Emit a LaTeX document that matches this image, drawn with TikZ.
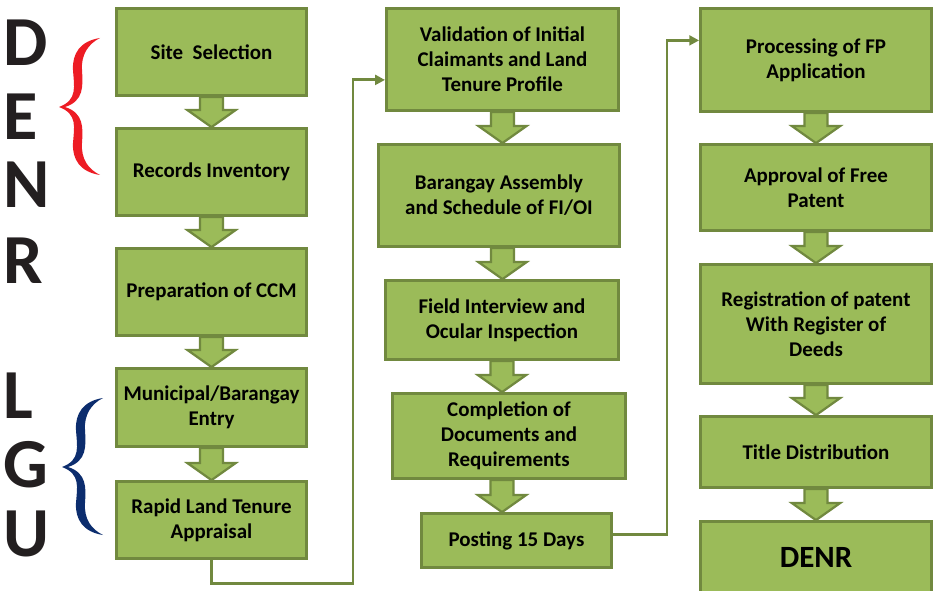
\documentclass[tikz,border=0pt]{standalone}
\usepackage{fontspec}
\setmainfont{Carlito}
\usepackage{tikz}
\usetikzlibrary{arrows.meta}
\usetikzlibrary{calc}
\definecolor{boxfill}{RGB}{155,187,89}
\definecolor{boxline}{RGB}{113,137,63}
\definecolor{bracered}{RGB}{237,28,36}
\definecolor{braceblue}{RGB}{12,45,110}
\definecolor{letterink}{RGB}{35,31,32}
\tikzset{
  % arrow tip for the thin connectors
  >={Triangle[length=7pt,width=7pt]},
  % Common styles for the flow chart
  stepbox/.style={draw=boxline, fill=boxfill, line width=2.1pt, align=center,
    font=\bfseries\fontsize{14.9}{17.8}\selectfont},
  link/.style={draw=boxline, line width=2pt, ->},
  fat/.style={draw=boxline, fill=boxfill, line width=1.6pt,
    to path={let \p1=(\tikztostart), \p2=(\tikztotarget) in
      (\x1-8.2pt,\y1) -- (\x1-8.2pt,\y2+12.1pt) -- (\x1-17.1pt,\y2+12.1pt) -- (\x1,\y2)
      -- (\x1+17.1pt,\y2+12.1pt) -- (\x1+8.2pt,\y2+12.1pt) -- (\x1+8.2pt,\y1) -- cycle}},
  bigletter/.style={font=\bfseries\fontsize{50}{50}\selectfont, text=letterink,
    anchor=west, inner sep=0pt},
  curly/.pic={
    \fill (0,0) .. controls (-20,3) and (-28,16) .. (-27,32)
      .. controls (-26,48) and (-22,62) .. (-41,69)
      .. controls (-22,76) and (-26,90) .. (-27,105)
      .. controls (-28,121) and (-20,134) .. (0,137)
      .. controls (-12,131) and (-19,121) .. (-18,105)
      .. controls (-17,90) and (-16,75) .. (-35,69)
      .. controls (-16,63) and (-17,48) .. (-18,32)
      .. controls (-19,17) and (-12,6) .. (0,0) -- cycle;
  }
}

\begin{document}
\begin{tikzpicture}[x=0.025cm,y=-0.025cm]
        \useasboundingbox (0,0) rectangle (936,591);

        % Side letters and braces
        \foreach \ch/\py in {D/42.5, E/116.5, N/185, R/261, L/396, G/465, U/534}
          \node[bigletter] (letter\ch) at (3,\py) {\ch};
        \pic[fill=bracered] at (100,38) {curly};
        \pic[fill=braceblue] at (103,398) {curly};

        % First column
        \node[stepbox, minimum width=4.75cm, minimum height=2.17cm] (site) at (211.5,52) {Site\ \ Selection};
        \node[stepbox, minimum width=4.75cm, minimum height=2.17cm] (records) at (211.5,172) {Records Inventory};
        \node[stepbox, minimum width=4.75cm, minimum height=2.17cm] (ccm) at (211.5,292) {Preparation of CCM};
        \node[stepbox, minimum width=4.75cm, minimum height=1.95cm] (entry) at (211.5,407.5) {Municipal/Barangay\\Entry};
        \node[stepbox, minimum width=4.75cm, minimum height=1.92cm] (rapid) at (211.5,520) {Rapid Land Tenure\\Appraisal};

        % Second column
        \node[stepbox, minimum width=5.8cm, minimum height=2.55cm] (valid) at (502.5,59.5) {Validation of Initial\\Claimants and Land\\Tenure Profile};
        \node[stepbox, minimum width=6.02cm, minimum height=2.55cm] (assembly) at (499,195.5) {Barangay Assembly\\and Schedule of FI/OI};
        \node[stepbox, minimum width=5.82cm, minimum height=1.97cm] (field) at (502,320) {Field Interview and\\Ocular Inspection};
        \node[stepbox, minimum width=5.82cm, minimum height=2.12cm] (complete) at (509,436) {Completion of\\Documents and\\Requirements};
        \node[stepbox, minimum width=4.75cm, minimum height=1.345cm] (posting) at (516.5,540.5) {Posting 15 Days};

        % Third column
        \node[stepbox, minimum width=5.77cm, minimum height=2.57cm] (proc) at (816,60) {Processing of FP\\Application};
        \node[stepbox, minimum width=5.77cm, minimum height=2.145cm] (approval) at (816,187.5) {Approval of Free\\Patent};
        \node[stepbox, minimum width=5.77cm, minimum height=2.97cm] (regist) at (816,324) {Registration of patent\\With Register of\\Deeds};
        \node[stepbox, minimum width=5.77cm, minimum height=1.77cm] (title) at (816,452) {Title Distribution};
        \node[stepbox, minimum width=5.77cm, minimum height=1.77cm, font=\bfseries\fontsize{22}{26}\selectfont] (denr) at (816,557) {DENR};

        % Block arrows
        \draw[fat] (site.south) to (records.north);
        \draw[fat] (records.south) to (ccm.north);
        \draw[fat] (ccm.south) to (entry.north);
        \draw[fat] (entry.south) to (rapid.north);
        \draw[fat] (valid.south) to (assembly.north);
        \draw[fat] (assembly.south -| valid.south) to (field.north);
        \draw[fat] (field.south) to (complete.north);
        \draw[fat] (complete.south -| field.south) to (posting.north);
        \draw[fat] (proc.south) to (approval.north);
        \draw[fat] (approval.south) to (regist.north);
        \draw[fat] (regist.south) to (title.north);
        \draw[fat] (title.south) to (denr.north);

        % Connectors between columns
        \draw[link] (rapid.south) -- ++(0,24) -| ([xshift=-0.8cm,yshift=-0.51cm]valid.west) -- ([yshift=-0.51cm]valid.west);
        \draw[link] ([yshift=0.14cm]posting.east) -| ([xshift=-0.8cm,yshift=0.49cm]proc.west) -- ([yshift=0.49cm]proc.west);
    \end{tikzpicture}
\end{document}
